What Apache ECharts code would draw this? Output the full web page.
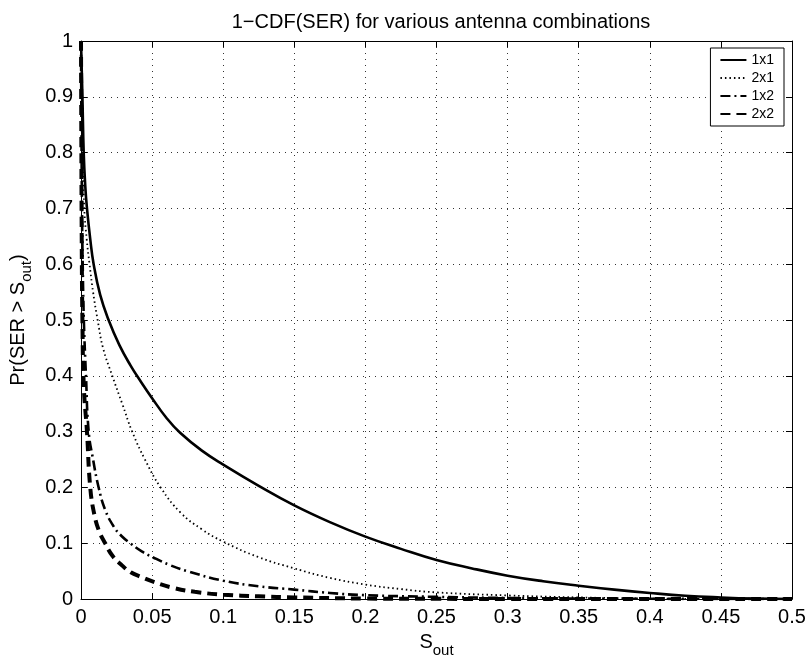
<!DOCTYPE html>
<html>
<head>
<meta charset="utf-8">
<script src="https://cdn.jsdelivr.net/npm/echarts@6/dist/echarts.min.js"></script>
<style>html,body{margin:0;padding:0;background:#fff}#c{width:812px;height:663px}</style>
</head>
<body>
<div id="c"></div>
<script>
// ---- data ----
var title = '1\u2212CDF(SER) for various antenna combinations';
var seriesNames = ['1x1', '2x1', '1x2', '2x2'];
var xTicks = [0, 0.05, 0.1, 0.15, 0.2, 0.25, 0.3, 0.35, 0.4, 0.45, 0.5];
var yTicks = [0, 0.1, 0.2, 0.3, 0.4, 0.5, 0.6, 0.7, 0.8, 0.9, 1];

var s1x1 = [0, 0.0005, 0.001, 0.0019, 0.003, 0.0042, 0.0065, 0.0089, 0.0135, 0.0194, 0.027, 0.035, 0.042, 0.05, 0.06, 0.0697, 0.085, 0.1, 0.125, 0.15, 0.175, 0.2, 0.225, 0.25, 0.275, 0.3, 0.325, 0.35, 0.375, 0.4, 0.425, 0.45, 0.475, 0.5];
var p1x1 = [1, 0.95, 0.9, 0.8, 0.74, 0.7, 0.645, 0.6, 0.545, 0.5, 0.455, 0.418, 0.39, 0.36, 0.325, 0.298, 0.266, 0.241, 0.203, 0.168, 0.138, 0.112, 0.09, 0.07, 0.055, 0.042, 0.032, 0.024, 0.017, 0.011, 0.006, 0.003, 0.001, 0];

var s2x1 = [0, 0.0005, 0.001, 0.0023, 0.004, 0.006, 0.0085, 0.0117, 0.0155, 0.022, 0.029, 0.036, 0.045, 0.056, 0.07, 0.085, 0.1, 0.125, 0.15, 0.175, 0.2, 0.225, 0.25, 0.3, 0.35, 0.4, 0.45, 0.5];
var p2x1 = [1, 0.9, 0.82, 0.7, 0.645, 0.6, 0.55, 0.5, 0.45, 0.4, 0.35, 0.3, 0.25, 0.2, 0.155, 0.125, 0.103, 0.075, 0.055, 0.038, 0.026, 0.018, 0.012, 0.0066, 0.003, 0.001, 0.0003, 0];

var s1x2 = [0, 0.0003, 0.0007, 0.0012, 0.002, 0.0035, 0.0054, 0.0085, 0.0124, 0.017, 0.023, 0.0285, 0.0347, 0.043, 0.053, 0.0625, 0.075, 0.1, 0.125, 0.15, 0.175, 0.2, 0.25, 0.3, 0.35, 0.4, 0.5];
var p1x2 = [1, 0.85, 0.7, 0.6, 0.5, 0.4, 0.3, 0.25, 0.2, 0.16, 0.13, 0.113, 0.1, 0.085, 0.072, 0.061, 0.05, 0.033, 0.023, 0.017, 0.011, 0.007, 0.004, 0.002, 0.001, 0.0005, 0];

var s2x2 = [0, 0.0002, 0.0005, 0.001, 0.002, 0.0042, 0.0065, 0.0095, 0.013, 0.017, 0.022, 0.029, 0.035, 0.042, 0.052, 0.065, 0.08, 0.1, 0.125, 0.15, 0.2, 0.25, 0.3, 0.4, 0.5];
var p2x2 = [1, 0.85, 0.65, 0.5, 0.38, 0.3, 0.2, 0.15, 0.12, 0.1, 0.078, 0.06, 0.048, 0.04, 0.03, 0.02, 0.013, 0.008, 0.005, 0.003, 0.001, 0.0005, 0.0002, 0.0001, 0];

// ---- build ----
function pairs(xs, ys) { return xs.map(function (x, i) { return [x, ys[i]]; }); }
var FONT = '"Liberation Sans", Arial, Helvetica, sans-serif';
var chart = echarts.init(document.getElementById('c'), null, { renderer: 'canvas' });

var styles = [
  { width: 2.6, type: 'solid' },
  { width: 1.8, type: [1.5, 3] },
  { width: 2.6, type: [10, 4, 2, 4] },
  { width: 4, type: [10, 6] }
];
var datasets = [pairs(s1x1, p1x1), pairs(s2x1, p2x1), pairs(s1x2, p1x2), pairs(s2x2, p2x2)];

var series = seriesNames.map(function (n, i) {
  return {
    name: n, type: 'line', data: datasets[i], xAxisIndex: 0, yAxisIndex: 0,
    symbol: 'none', smooth: 0.45,
    lineStyle: { color: '#000', width: styles[i].width, type: styles[i].type },
    itemStyle: { color: '#000' },
    z: 5 - i, animation: false
  };
});

var xMin = xTicks[0], xMax = xTicks[xTicks.length - 1], xInt = xTicks[1] - xTicks[0];
var yMin = yTicks[0], yMax = yTicks[yTicks.length - 1], yInt = yTicks[1] - yTicks[0];

var axisLine = { show: true, onZero: false, lineStyle: { color: '#000', width: 1 } };
var tickIn = { show: true, inside: true, length: 6, lineStyle: { color: '#000' } };
var gridLine = { show: true, lineStyle: { color: '#333', width: 1, type: [1, 5] } };

chart.setOption({
  backgroundColor: '#fff',
  animation: false,
  title: {
    text: title, left: 436, top: 7, textAlign: 'center',
    textStyle: { fontFamily: FONT, fontSize: 20, fontWeight: 'normal', color: '#000' }
  },
  legend: {
    orient: 'vertical', right: 28, top: 48,
    data: seriesNames,
    itemWidth: 26, itemHeight: 14, itemGap: 4,
    padding: [5, 10, 5, 9],
    backgroundColor: '#fff', borderColor: '#000', borderWidth: 1, borderRadius: 0,
    itemStyle: { opacity: 0 },
    textStyle: { fontFamily: FONT, fontSize: 14, color: '#000' },
    selectedMode: false
  },
  grid: { left: 80, right: 20, top: 41, bottom: 62, containLabel: false },
  xAxis: [
    {
      type: 'value', min: xMin, max: xMax, interval: xInt, position: 'bottom',
      axisLine: axisLine, axisTick: tickIn, splitLine: gridLine,
      axisLabel: { fontFamily: FONT, fontSize: 20, color: '#000', margin: 8 },
      name: '{a|S}{b|out}', nameLocation: 'middle', nameGap: 30,
      nameTextStyle: {
        fontFamily: FONT, color: '#000',
        rich: {
          a: { fontFamily: FONT, fontSize: 20, color: '#000', verticalAlign: 'bottom', padding: [0, 0, 6, 0] },
          b: { fontFamily: FONT, fontSize: 15, color: '#000', verticalAlign: 'bottom' }
        }
      }
    },
    {
      type: 'value', min: xMin, max: xMax, interval: xInt, position: 'top',
      axisLine: axisLine, axisTick: tickIn, axisLabel: { show: false }, splitLine: { show: false }
    }
  ],
  yAxis: [
    {
      type: 'value', min: yMin, max: yMax, interval: yInt, position: 'left',
      axisLine: axisLine, axisTick: tickIn, splitLine: gridLine,
      axisLabel: { fontFamily: FONT, fontSize: 20, color: '#000', margin: 8 },
      name: '{a|Pr(SER > S}{b|out}{a|)}', nameLocation: 'middle', nameGap: 47, nameRotate: 90,
      nameTextStyle: {
        fontFamily: FONT, color: '#000',
        rich: {
          a: { fontFamily: FONT, fontSize: 20, color: '#000', verticalAlign: 'bottom', padding: [0, 0, 6, 0] },
          b: { fontFamily: FONT, fontSize: 15, color: '#000', verticalAlign: 'bottom' }
        }
      }
    },
    {
      type: 'value', min: yMin, max: yMax, interval: yInt, position: 'right',
      axisLine: axisLine, axisTick: tickIn, axisLabel: { show: false }, splitLine: { show: false }
    }
  ],
  series: series
});
</script>
</body>
</html>
